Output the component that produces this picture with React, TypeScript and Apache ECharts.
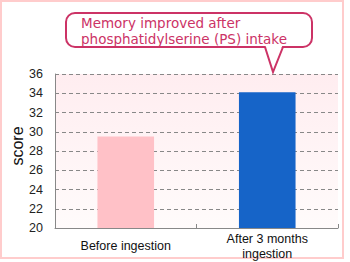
import React, { useEffect, useRef } from "react";
import * as echarts from "echarts";

const categories = ["Before ingestion", "After 3 months\ningestion"];
const scores = [29.5, 34.1];
const barColors = ["#ffc1c7", "#1664c8"];
const calloutLines = ["Memory improved after", "phosphatidylserine (PS) intake"];
const yAxisName = "score";

const FONT = "Liberation Sans";
const CALLOUT_FONT = "DejaVu Sans";

export default function App() {
  const ref = useRef<HTMLDivElement>(null);
  useEffect(() => {
    document.body.style.margin = "0";
    const chart = echarts.init(ref.current!, null, { renderer: "svg" });
    chart.setOption({
      animation: false,
      backgroundColor: "#ffffff",
      grid: {
        left: 55,
        right: 12,
        top: 74,
        bottom: 34,
        show: true,
        borderWidth: 0,
        backgroundColor: new echarts.graphic.LinearGradient(0, 0, 0, 1, [
          { offset: 0, color: "#ffedf0" },
          { offset: 1, color: "#fffbfb" },
        ]),
      },
      xAxis: {
        type: "category",
        data: categories,
        axisLine: { lineStyle: { color: "#888888", width: 1 } },
        axisTick: { show: true, inside: true, length: 4, lineStyle: { color: "#888888" } },
        axisLabel: {
          color: "#111111",
          fontSize: 12.5,
          fontFamily: FONT,
          lineHeight: 15,
          margin: 18,
          verticalAlign: "middle",
        },
      },
      yAxis: {
        type: "value",
        min: 20,
        max: 36,
        interval: 2,
        axisLine: { show: true, lineStyle: { color: "#888888", width: 1 } },
        axisTick: { show: false },
        axisLabel: { color: "#222222", fontSize: 12.5, fontFamily: FONT, margin: 12 },
        splitLine: { lineStyle: { color: "#888888", type: [4, 3], width: 1 } },
      },
      series: [
        {
          type: "bar",
          barWidth: "40%",
          data: scores.map((v, i) => ({ value: v, itemStyle: { color: barColors[i] } })),
        },
      ],
      graphic: [
        {
          type: "rect",
          shape: { x: 1, y: 1, width: 342, height: 257 },
          style: { fill: "none", stroke: "#ffcccc", lineWidth: 2 },
          silent: true,
        },
        {
          type: "text",
          x: 17,
          y: 146,
          rotation: Math.PI / 2,
          style: {
            text: yAxisName,
            fontSize: 16,
            fontFamily: FONT,
            fill: "#111111",
            align: "center",
            verticalAlign: "middle",
          },
        },
        {
          type: "rect",
          shape: { x: 66, y: 13, width: 246, height: 34, r: 9 },
          style: { fill: "#ffffff", stroke: "#cc3366", lineWidth: 2 },
          z: 100,
        },
        {
          type: "polygon",
          shape: { points: [[265, 44], [273, 71], [283, 44]] },
          style: { fill: "#ffffff", stroke: "none" },
          z: 101,
        },
        {
          type: "polyline",
          shape: { points: [[265, 47], [273, 72], [283, 47]] },
          style: { fill: "none", stroke: "#cc3366", lineWidth: 2 },
          z: 102,
        },
        {
          type: "text",
          x: 81,
          y: 31,
          style: {
            text: calloutLines.join("\n"),
            fontSize: 13.5,
            lineHeight: 16,
            fontFamily: CALLOUT_FONT,
            fill: "#cc3366",
            verticalAlign: "middle",
          },
          z: 103,
        },
      ],
    });
    return () => chart.dispose();
  }, []);
  return <div ref={ref} style={{ width: 350, height: 262 }} />;
}
